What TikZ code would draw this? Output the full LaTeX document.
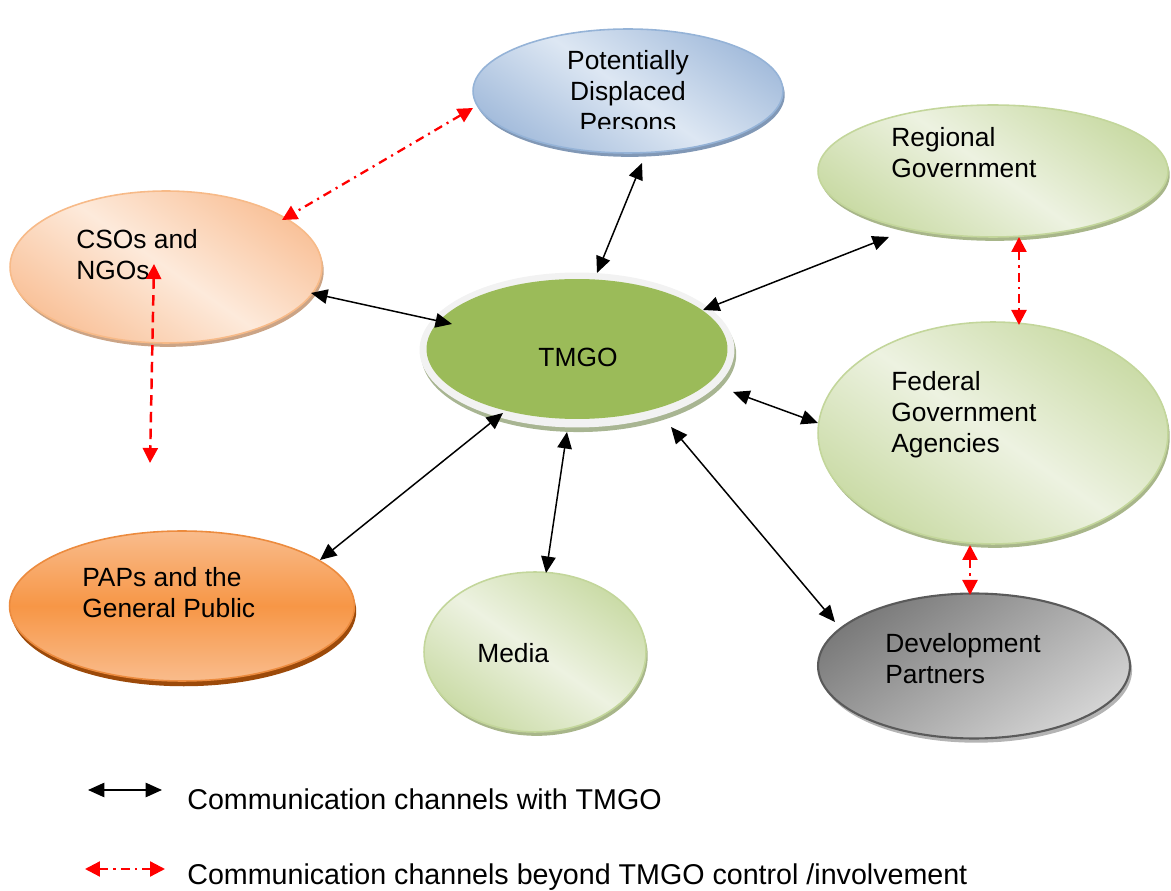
\documentclass[tikz,border=0pt]{standalone}
\usepackage{fontspec}
\setmainfont{Liberation Sans}
\usetikzlibrary{shapes.geometric,arrows.meta,shadows}
\definecolor{pdpdark}{HTML}{A5BDDC}
\definecolor{pdplight}{HTML}{DDE7F3}
\definecolor{pdpline}{HTML}{95B3D7}
\definecolor{pdpshade}{HTML}{8198B6}
\definecolor{grdark}{HTML}{CADBA6}
\definecolor{grlight}{HTML}{EDF2E1}
\definecolor{grline}{HTML}{C3D69B}
\definecolor{grshade}{HTML}{A8B68A}
\definecolor{csodark}{HTML}{F9C29A}
\definecolor{csolight}{HTML}{FDEADB}
\definecolor{csoline}{HTML}{F7BA88}
\definecolor{csoshade}{HTML}{CBA486}
\definecolor{papslight}{HTML}{F9BC8C}
\definecolor{papsmid}{HTML}{F79646}
\definecolor{papsline}{HTML}{EC8B3E}
\definecolor{papsshade}{HTML}{9C4A0A}
\definecolor{devdark}{HTML}{7A7A7A}
\definecolor{devlight}{HTML}{D4D4D4}
\definecolor{devline}{HTML}{5A5A5A}
\definecolor{devshade}{HTML}{B4B4B4}
\definecolor{tmgogreen}{HTML}{9BBB59}
\definecolor{tmgorim}{HTML}{F2F2F2}
\definecolor{tmgoshade}{HTML}{A8B592}
\tikzstyle{bubble} = [ellipse, inner sep=0pt, outer sep=0pt, line width=0.9pt]
\tikzstyle{bubbletext} = [inner sep=0pt, align=left, anchor=west, font=\fontsize{15}{17.6}\selectfont]
\tikzstyle{legendtext} = [inner sep=0pt, anchor=base west, font=\fontsize{16.3}{19}\selectfont]
\tikzstyle{channel} = [black, line width=0.85pt, {Triangle[length=3.3mm,width=2.9mm]}-{Triangle[length=3.3mm,width=2.9mm]}]
\tikzstyle{outchannel} = [red, line width=1.3pt, dash pattern=on 5pt off 3pt on 1.2pt off 3pt, {Triangle[length=3mm,width=3mm]}-{Triangle[length=3mm,width=3mm]}]
\tikzstyle{outdashed} = [red, line width=1.4pt, dash pattern=on 6pt off 3.5pt, {Triangle[length=3mm,width=3mm]}-{Triangle[length=3mm,width=3mm]}]

\begin{document}
\begin{tikzpicture}[x=0.02cm, y=-0.02cm]
    \useasboundingbox (0,0) rectangle (1171,891);

    % the groups round TMGO
    \node [bubble, minimum width=6.2cm, minimum height=2.48cm, draw=pdpline,
        general shadow={fill=pdpshade, shadow xshift=1pt, shadow yshift=-2.2pt},
        top color=pdpdark, bottom color=pdpdark, middle color=pdplight, shading angle=-35] (pdp) at (628,91) {};
    \node [bubble, minimum width=7cm, minimum height=2.64cm, draw=grline,
        general shadow={fill=grshade, shadow xshift=1pt, shadow yshift=-2.2pt},
        top color=grdark, bottom color=grdark, middle color=grlight, shading angle=-35] (reg) at (993,171) {};
    \node [bubble, minimum width=6.24cm, minimum height=3.04cm, draw=csoline,
        general shadow={fill=csoshade, shadow xshift=1pt, shadow yshift=-2.2pt},
        top color=csodark, bottom color=csodark, middle color=csolight, shading angle=-35] (cso) at (166,267) {};
    \node [bubble, minimum width=7cm, minimum height=4.44cm, draw=grline,
        general shadow={fill=grshade, shadow xshift=1pt, shadow yshift=-2.2pt},
        top color=grdark, bottom color=grdark, middle color=grlight, shading angle=-35] (fed) at (993,433) {};
    \node [bubble, minimum width=6.9cm, minimum height=3cm, draw=papsline,
        general shadow={fill=papsshade, shadow xshift=1pt, shadow yshift=-3pt},
        top color=papslight, bottom color=papslight, middle color=papsmid] (paps) at (182,606) {};
    \node [bubble, minimum width=4.44cm, minimum height=3.2cm, draw=grline,
        general shadow={fill=grshade, shadow xshift=1pt, shadow yshift=-2.2pt},
        top color=grdark, bottom color=grdark, middle color=grlight, shading angle=-35] (media) at (535,652) {};
    \node [bubble, minimum width=6.24cm, minimum height=2.9cm, draw=devline, line width=1.2pt,
        general shadow={fill=devshade, shadow xshift=1.2pt, shadow yshift=-2.4pt},
        top color=devdark, bottom color=devlight, shading angle=35] (dev) at (974,666) {};

    % TMGO
    \node [bubble, minimum width=6.3cm, minimum height=3.1cm, fill=tmgorim,
        general shadow={fill=tmgoshade, shadow xshift=1pt, shadow yshift=-2.6pt}] (tmgo) at (577,350) {};
    \node [bubble, minimum width=6.02cm, minimum height=2.8cm, fill=tmgogreen] (tmgoin) at (577,349) {};

    % texts
    \begin{scope}
        \clip (540,30) rectangle (720,129);
        \node [bubbletext, align=center, anchor=center] (pdptext) at (628,91) {Potentially\\Displaced\\Persons};
    \end{scope}
    \node [bubbletext] (regtext) at (891,152.5) {Regional\\Government};
    \node [bubbletext] (csotext) at (76,255) {CSOs and\\NGOs};
    \node [bubbletext, anchor=center] (tmgotext) at (578,357) {TMGO};
    \node [bubbletext] (fedtext) at (891,415) {Federal\\Government\\Agencies};
    \node [bubbletext] (papstext) at (82,593) {PAPs and the\\General Public};
    \node [bubbletext] (mediatext) at (477,653.5) {Media};
    \node [bubbletext] (devtext) at (885,659) {Development\\Partners};

    % channels with TMGO
    \draw [channel] ([shift={(14,72)}]pdp.center) -- ([shift={(20,-77)}]tmgo.center);
    \draw [channel] ([shift={(145,26)}]cso.center) -- ([shift={(-125,-26)}]tmgo.center);
    \draw [channel] ([shift={(-104,66)}]reg.center) -- ([shift={(126,-40)}]tmgo.center);
    \draw [channel] ([shift={(156,42)}]tmgo.center) -- ([shift={(-175,-10)}]fed.center);
    \draw [channel] ([shift={(-74,63)}]tmgo.center) -- ([shift={(138,-46)}]paps.center);
    \draw [channel] ([shift={(-10,82)}]tmgo.center) -- ([shift={(11,-79)}]media.center);
    \draw [channel] ([shift={(94,77)}]tmgo.center) -- ([shift={(-139,-44)}]dev.center);

    % channels beyond TMGO
    \coordinate (csoend) at (150,463);
    \draw [outchannel] ([shift={(-155,17)}]pdp.center) -- ([shift={(116,-47)}]cso.center);
    \draw [outdashed] ([shift={(-12,-3)}]cso.center) -- (csoend);
    \draw [outchannel] ([shift={(26,66)}]reg.center) -- ([shift={(26,-108)}]fed.center);
    \draw [outchannel] ([shift={(-23,112)}]fed.center) -- ([shift={(-4,-71)}]dev.center);

    % legend
    \coordinate (blackl) at (88,790);
    \coordinate (blackr) at (162,790);
    \coordinate (redl) at (85,869);
    \coordinate (redr) at (165,869);
    \draw [channel] (blackl) -- (blackr);
    \draw [outchannel] (redl) -- (redr);
    \node [legendtext] (legwith) at (187,810) {Communication channels with TMGO};
    \node [legendtext] (legbeyond) at (187,885) {Communication channels beyond TMGO control /involvement};
\end{tikzpicture}
\end{document}
